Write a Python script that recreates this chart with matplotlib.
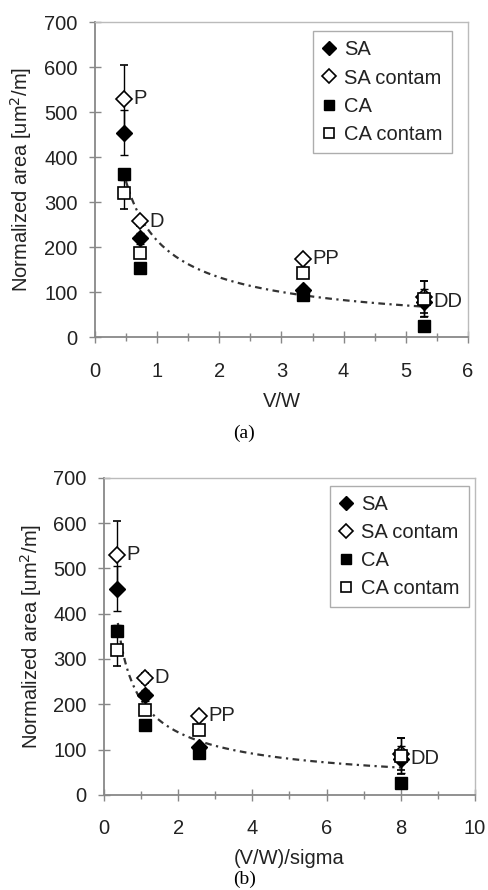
import numpy as np
import matplotlib
matplotlib.use("Agg")
import matplotlib.pyplot as plt

plt.rcParams['font.family'] = ['Liberation Sans', 'DejaVu Sans']

# sample labels
labels = ["P", "D", "PP", "DD"]

# x positions per panel
x_a = [0.47, 0.73, 3.35, 5.3]
x_b = [0.35, 1.1, 2.55, 8.0]

# normalized area values [um^2/m]
sa = [455, 220, 105, 78]
sa_err = [50, 12, 8, 30]
sa_contam = [530, 258, 175, 90]
sa_contam_err = [75, 10, 8, 35]
ca = [362, 155, 93, 25]
ca_err = [12, 10, 8, 5]
ca_contam = [320, 188, 142, 85]
ca_contam_err = [35, 10, 8, 40]

# power trendline: y = A * x^B, drawn over [x0, x1]
fit_a = dict(A=215, B=-0.69, x0=0.5, x1=5.3)
fit_b = dict(A=209, B=-0.60, x0=0.37, x1=8.0)

FS = 14.5


def panel(ax, xs, fit, xmax, xminor, xlabel, leg_anchor):
    ax.errorbar(xs, sa_contam, yerr=sa_contam_err, fmt='D', mfc='white', mec='black',
                ms=8, mew=1.2, ecolor='black', elinewidth=1, capsize=3, label='SA contam', zorder=3)
    ax.errorbar(xs, sa, yerr=sa_err, fmt='D', color='black', ms=8, ecolor='black',
                elinewidth=1, capsize=3, label='SA', zorder=4)
    ax.errorbar(xs, ca, yerr=ca_err, fmt='s', color='black', ms=9, ecolor='black',
                elinewidth=1, capsize=3, label='CA', zorder=4)
    ax.errorbar(xs, ca_contam, yerr=ca_contam_err, fmt='s', mfc='white', mec='black',
                ms=9, mew=1.2, ecolor='black', elinewidth=1, capsize=3, label='CA contam', zorder=5)

    xx = np.linspace(fit['x0'], fit['x1'], 200)
    ax.plot(xx, fit['A'] * xx ** fit['B'], color='#333333', lw=1.6,
            linestyle=(0, (3, 2, 1, 2)), zorder=2)

    # point labels
    for i, lab in enumerate(labels):
        yv = sa_contam[i] if i < 3 else ca_contam[i] - 5
        ax.text(xs[i] + xmax * 0.025, yv, lab, fontsize=FS, va='center', ha='left',
                color='#222222')

    ax.set_xlim(0, xmax)
    ax.set_ylim(0, 700)
    ax.set_yticks(np.arange(0, 701, 100))
    ax.set_xticks(np.arange(0, xmax + 0.1, xminor * 2))
    ax.set_xticks(np.arange(0, xmax + 0.1, xminor), minor=True)
    ax.tick_params(axis='both', which='both', direction='inout', color='#888888',
                   labelsize=FS, labelcolor='#222222')
    ax.tick_params(axis='both', which='major', length=9, width=1)
    ax.tick_params(axis='x', which='minor', length=6, width=1)
    ax.tick_params(axis='x', pad=13)
    ax.tick_params(axis='y', pad=8)
    for s in ['left', 'bottom']:
        ax.spines[s].set_color('#888888')
        ax.spines[s].set_linewidth(1.3)
    for s in ['top', 'right']:
        ax.spines[s].set_color('#bbbbbb')
        ax.spines[s].set_linewidth(1.0)
    ax.set_xlabel(xlabel, fontsize=FS, color='#222222', labelpad=8)
    ax.set_ylabel('Normalized area [um$^2$/m]', fontsize=FS, color='#222222', labelpad=7)

    h, l = ax.get_legend_handles_labels()
    order = [l.index(k) for k in ['SA', 'SA contam', 'CA', 'CA contam']]
    hs = [h[i][0] for i in order]
    leg = ax.legend(hs, [l[i] for i in order], loc='upper right', bbox_to_anchor=leg_anchor,
                    fontsize=FS, frameon=True, fancybox=False, handlelength=0.7,
                    handletextpad=0.4, labelspacing=0.45, borderpad=0.45, markerscale=0.85,
                    borderaxespad=0)
    leg.get_frame().set_edgecolor('#999999')
    leg.get_frame().set_linewidth(1.0)
    for t in leg.get_texts():
        t.set_color('#222222')


fig = plt.figure(figsize=(4.89, 8.9), dpi=100)
ax1 = fig.add_axes([0.194, 0.621, 0.763, 0.354])
ax2 = fig.add_axes([0.213, 0.107, 0.758, 0.356])

panel(ax1, x_a, fit_a, 6, 0.5, 'V/W', (0.957, 0.971))
panel(ax2, x_b, fit_b, 10, 1, '(V/W)/sigma', (0.984, 0.975))

fig.text(0.50, 0.513, '(a)', family='Liberation Serif', fontsize=14, ha='center', va='center')
fig.text(0.50, 0.012, '(b)', family='Liberation Serif', fontsize=14, ha='center', va='center')

fig.savefig('out.png', dpi=100)
